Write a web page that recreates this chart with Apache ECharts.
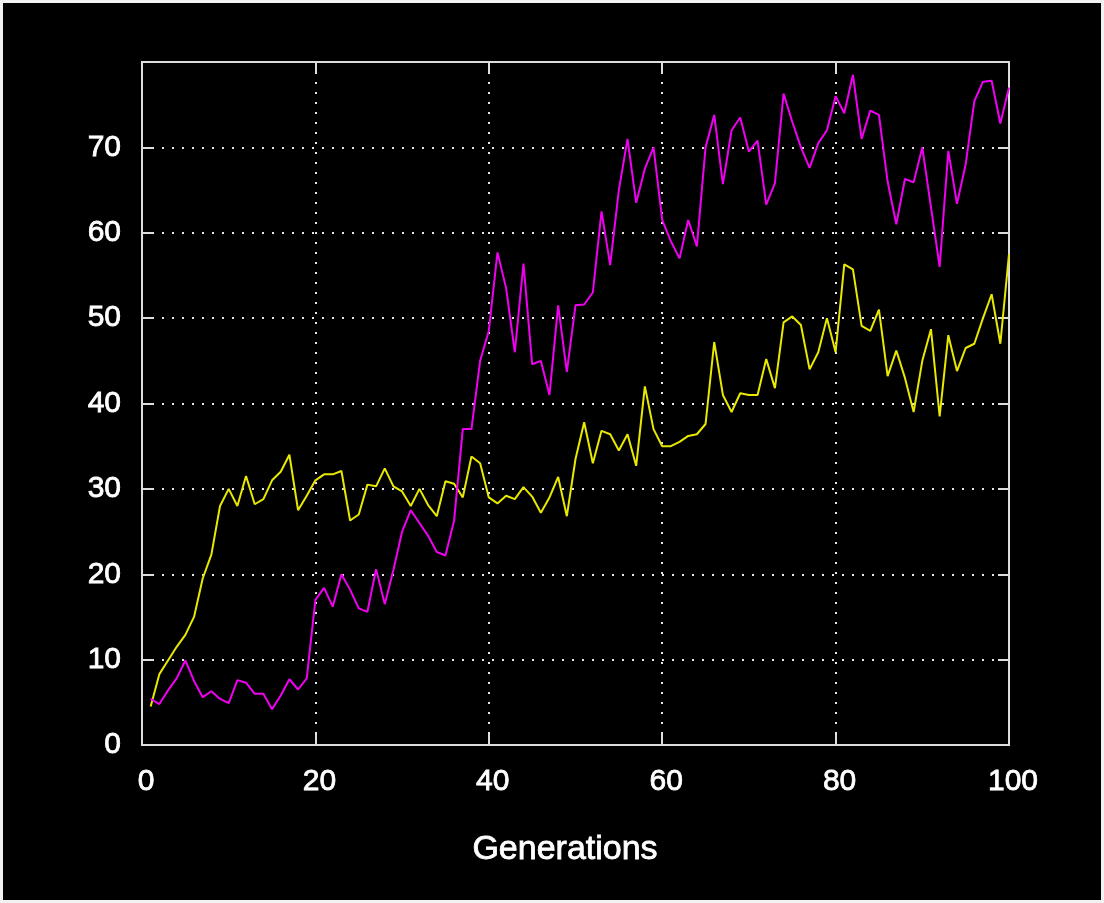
<!DOCTYPE html>
<html>
<head>
<meta charset="utf-8">
<script src="https://cdn.jsdelivr.net/npm/echarts@6/dist/echarts.min.js"></script>
<style>
  html, body { margin: 0; padding: 0; background: #000; }
  #wrap {
    position: relative; width: 1104px; height: 903px; background: #000;
    box-shadow: inset 0 0 0 3px #f2f2f2;
  }
  #chart { position: absolute; left: 0; top: 0; width: 1104px; height: 903px; }
</style>
</head>
<body>
<div id="wrap"><div id="chart"></div></div>
<script>
// Per-generation values, generations 1..100
const magentaValues = [
  5.4, 4.8, 6.4, 7.8, 9.9, 7.5, 5.6, 6.3, 5.4, 4.9,
  7.6, 7.3, 6.0, 6.0, 4.2, 5.8, 7.7, 6.5, 7.8, 17.0,
  18.4, 16.2, 20.0, 18.2, 16.0, 15.6, 20.6, 16.5, 20.5, 25.0,
  27.5, 26.0, 24.5, 22.6, 22.2, 26.3, 37.0, 37.0, 45.0, 48.5,
  57.7, 53.5, 46.0, 56.4, 44.6, 45.0, 41.0, 51.5, 43.7, 51.5,
  51.6, 53.0, 62.5, 56.2, 65.0, 71.0, 63.5, 67.5, 70.0, 61.5,
  59.0, 57.0, 61.5, 58.4, 70.0, 73.8, 65.7, 72.0, 73.5, 69.5,
  70.8, 63.3, 65.8, 76.3, 73.0, 70.0, 67.6, 70.5, 72.0, 76.0,
  74.0, 78.5, 71.0, 74.3, 73.8, 66.0, 61.0, 66.3, 65.9, 70.0,
  63.0, 56.0, 69.6, 63.4, 68.0, 75.4, 77.7, 77.8, 72.8, 77.0
];
const yellowValues = [
  4.5, 8.3, 9.9, 11.5, 12.9, 15.0, 19.5, 22.3, 28.0, 30.0,
  28.0, 31.5, 28.2, 28.8, 31.0, 32.0, 34.0, 27.5, 29.2, 31.0,
  31.7, 31.7, 32.1, 26.3, 27.0, 30.5, 30.3, 32.4, 30.3, 29.7,
  28.0, 30.0, 28.1, 26.8, 30.9, 30.6, 29.0, 33.8, 33.0, 29.0,
  28.3, 29.2, 28.8, 30.2, 29.1, 27.2, 29.0, 31.4, 26.8, 33.5,
  37.8, 33.0, 36.8, 36.4, 34.5, 36.4, 32.7, 42.0, 37.0, 35.0,
  35.0, 35.5, 36.2, 36.4, 37.6, 47.2, 41.0, 39.0, 41.2, 41.0,
  41.0, 45.2, 41.8, 49.5, 50.2, 49.2, 44.0, 46.0, 50.0, 46.0,
  56.3, 55.7, 49.1, 48.5, 51.0, 43.2, 46.2, 43.0, 39.0, 45.0,
  48.7, 38.5, 48.0, 43.8, 46.5, 47.0, 50.0, 52.8, 47.0, 57.5
];
const firstGeneration = 1;
const xTicks = [0, 20, 40, 60, 80, 100];
const yTicks = [0, 10, 20, 30, 40, 50, 60, 70];
const xTitle = 'Generations';

const toPairs = vals => vals.map((v, i) => [firstGeneration + i, v]);

const frameColor = '#dcdcdc';
const labelFont = {
  color: '#ffffff', fontSize: 30, fontFamily: 'Liberation Sans',
  textBorderColor: '#ffffff', textBorderWidth: 0.8
};
const dotted = { color: '#e6e6e6', width: 2, type: [2, 8] };

const chart = echarts.init(document.getElementById('chart'), null, { renderer: 'canvas' });
chart.setOption({
  backgroundColor: 'transparent',
  animation: false,
  grid: {
    left: 142, right: 95, top: 62, bottom: 158,
    show: true, borderColor: frameColor, borderWidth: 2, backgroundColor: 'transparent'
  },
  xAxis: [
    {
      type: 'value', min: xTicks[0], max: xTicks[xTicks.length - 1], interval: 20,
      position: 'bottom',
      axisLine: { show: true, onZero: false, lineStyle: { color: frameColor, width: 2 } },
      axisTick: { show: true, inside: true, length: 11, lineStyle: { color: frameColor, width: 2 } },
      axisLabel: {
        ...labelFont, margin: 22, padding: [0, 0, 0, 8],
        showMinLabel: true, showMaxLabel: true
      },
      splitLine: { show: true, lineStyle: dotted }
    },
    {
      type: 'value', min: xTicks[0], max: xTicks[xTicks.length - 1], interval: 20,
      position: 'top',
      axisLine: { show: true, onZero: false, lineStyle: { color: frameColor, width: 2 } },
      axisTick: { show: true, inside: true, length: 11, lineStyle: { color: frameColor, width: 2 } },
      axisLabel: { show: false },
      splitLine: { show: false }
    }
  ],
  yAxis: [
    {
      type: 'value', min: 0, max: 80, interval: 10,
      position: 'left',
      axisLine: { show: true, onZero: false, lineStyle: { color: frameColor, width: 2 } },
      axisTick: { show: true, inside: true, length: 11, lineStyle: { color: frameColor, width: 2 } },
      axisLabel: {
        ...labelFont, margin: 21, padding: [0, 0, 7, 0],
        formatter: v => (yTicks.indexOf(v) >= 0 ? String(v) : '')
      },
      splitLine: { show: true, lineStyle: dotted }
    },
    {
      type: 'value', min: 0, max: 80, interval: 10,
      position: 'right',
      axisLine: { show: true, onZero: false, lineStyle: { color: frameColor, width: 2 } },
      axisTick: { show: true, inside: true, length: 11, lineStyle: { color: frameColor, width: 2 } },
      axisLabel: { show: false },
      splitLine: { show: false }
    }
  ],
  graphic: [
    {
      type: 'text', left: 567 - 95, top: 832,
      style: {
        text: xTitle, fill: '#ffffff', fontSize: 34, fontFamily: 'Liberation Sans',
        stroke: '#ffffff', lineWidth: 0.8
      }
    }
  ],
  series: [
    {
      name: 'yellow', type: 'line', xAxisIndex: 0, yAxisIndex: 0,
      data: toPairs(yellowValues), showSymbol: false,
      lineStyle: { color: '#e8e800', width: 2 }, z: 3
    },
    {
      name: 'magenta', type: 'line', xAxisIndex: 0, yAxisIndex: 0,
      data: toPairs(magentaValues), showSymbol: false,
      lineStyle: { color: '#f000f0', width: 2 }, z: 4
    }
  ]
});
</script>
</body>
</html>
